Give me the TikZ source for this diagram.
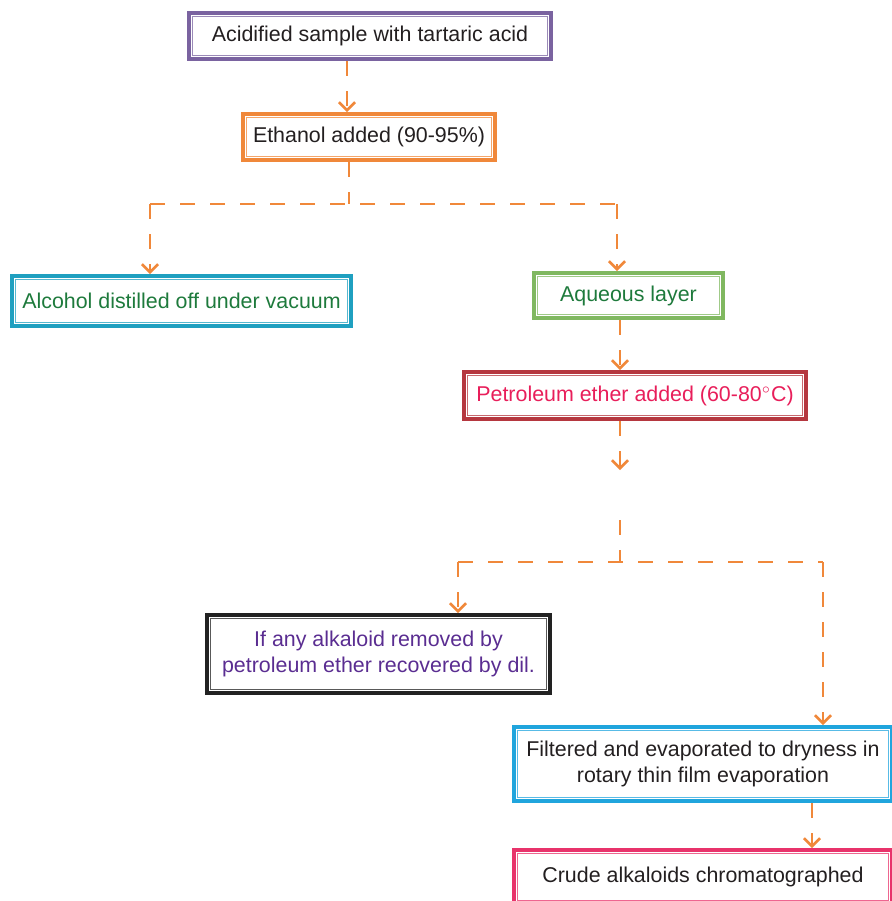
\documentclass[tikz,border=0pt]{standalone}
\usepackage{fontspec}
\setmainfont{Liberation Sans}
\usetikzlibrary{arrows.meta}
\definecolor{flow}{HTML}{F0883A}
\definecolor{cPurple}{HTML}{7A63A0}
\definecolor{cOrange}{HTML}{F0883A}
\definecolor{cTeal}{HTML}{1FA0C0}
\definecolor{cGreen}{HTML}{80B860}
\definecolor{cRed}{HTML}{B5373F}
\definecolor{cBlack}{HTML}{222222}
\definecolor{cBlue}{HTML}{20A5DD}
\definecolor{cPink}{HTML}{E8336B}
\definecolor{tGreen}{HTML}{1E7A3C}
\definecolor{tPink}{HTML}{E81E5A}
\definecolor{tPurple}{HTML}{5A2D91}
\definecolor{tGray}{HTML}{231F20}
\begin{document}
\begin{tikzpicture}[x=0.5pt,y=-0.5pt,font=\fontsize{10.7}{13}\selectfont,
	box/.style={draw=#1,line width=2pt,inner sep=0pt,align=center,text=tGray},
	dashline/.style={draw=flow,line width=1.3pt,dash pattern=on 7.5pt off 7.5pt},
	link/.style={dashline,-{Straight Barb[length=4pt,width=8pt]}}]
	\useasboundingbox (0,0) rectangle (891,901);
	\node[box=cPurple,minimum width=181pt,minimum height=23pt] (acid) at (370,36) {Acidified sample with tartaric acid};
	\node[box=cOrange,minimum width=126pt,minimum height=23pt] (ethanol) at (369,137) {Ethanol added (90-95\%)};
	\node[box=cTeal,minimum width=169.5pt,minimum height=25pt,text=tGreen] (alcohol) at (181.5,301) {Alcohol distilled off under vacuum};
	\node[box=cGreen,minimum width=94.5pt,minimum height=22.5pt,text=tGreen] (aqueous) at (628.5,295.5) {Aqueous layer};
	\node[box=cRed,minimum width=171pt,minimum height=23.5pt,text=tPink] (petrol) at (635,395.5) {Petroleum ether added (60-80$^\circ$C)};
	\node[box=cBlack,minimum width=171.5pt,minimum height=39pt,text=tPurple] (recover) at (378.5,654) {If any alkaloid removed by\\petroleum ether recovered by dil.};
	\node[box=cBlue,minimum width=189pt,minimum height=37pt] (filter) at (703,764) {Filtered and evaporated to dryness in\\rotary thin film evaporation};
	\node[box=cPink,minimum width=189pt,minimum height=27pt] (crude) at (703,877) {Crude alkaloids chromatographed};
	\foreach \n/\c in {acid/cPurple,ethanol/cOrange,alcohol/cTeal,aqueous/cGreen,petrol/cRed,recover/cBlack,filter/cBlue,crude/cPink}{
		\draw[color=\c!75,line width=0.7pt] ([shift={(2.8pt,-2.8pt)}]\n.north west) rectangle ([shift={(-2.8pt,2.8pt)}]\n.south east);
	}
	% split points
	\path (349,204) coordinate (s1) (150,204) coordinate (s1l) (617,204) coordinate (s1r)
		(620,470) coordinate (p1) (620,520) coordinate (p2)
		(620,562) coordinate (s2) (458,562) coordinate (s2l) (823,562) coordinate (s2r);
	\draw[link] (acid.south -| 347,0) -- (ethanol.north -| 347,0);
	\draw[dashline] (ethanol.south -| s1) -- (s1) (s1l) -- (s1r);
	\draw[link] (s1l) -- (alcohol.north -| s1l);
	\draw[link] (s1r) -- (aqueous.north -| s1r);
	\draw[link] (aqueous.south -| p1) -- (petrol.north -| p1);
	\draw[link] (petrol.south -| p1) -- (p1);
	\draw[dashline] (p2) -- (s2) (s2l) -- (s2r);
	\draw[link] (s2l) -- (recover.north -| s2l);
	\draw[link] (s2r) -- (filter.north -| s2r);
	\draw[link] (filter.south -| 812,0) -- (crude.north -| 812,0);
\end{tikzpicture}
\end{document}
